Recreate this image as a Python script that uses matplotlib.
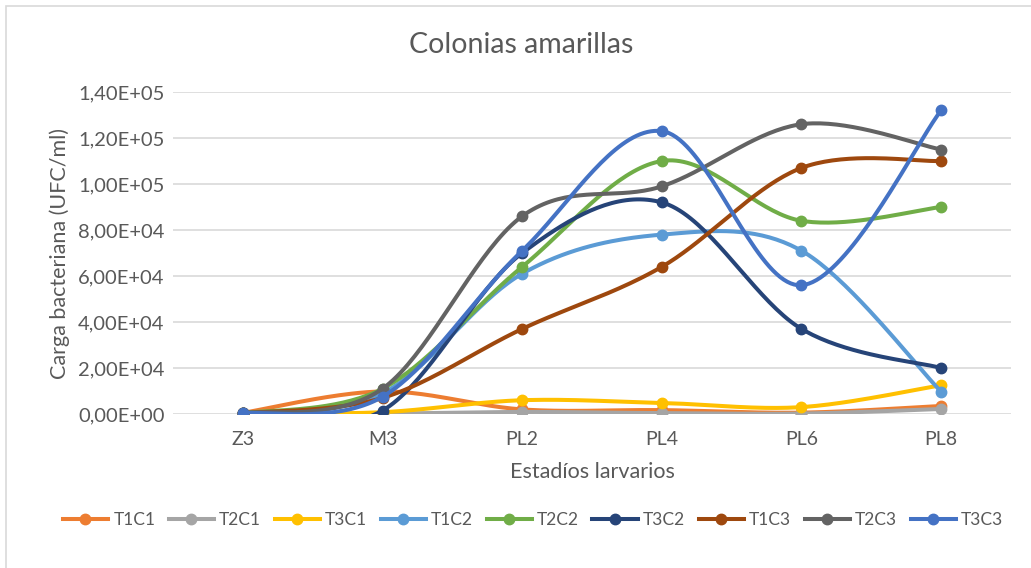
import numpy as np
import matplotlib.pyplot as plt
from matplotlib.ticker import FuncFormatter
from matplotlib.patches import Rectangle

plt.rcParams['font.family'] = ['Lato', 'DejaVu Sans']

estadios = ['Z3', 'M3', 'PL2', 'PL4', 'PL6', 'PL8']
series = ['T1C1', 'T2C1', 'T3C1', 'T1C2', 'T2C2', 'T3C2', 'T1C3', 'T2C3', 'T3C3']
colores = ['#ED7D31', '#A5A5A5', '#FFC000', '#5B9BD5', '#70AD47',
           '#264478', '#9E480E', '#636363', '#4472C4']

t1c1 = [500, 9800, 2000, 1700, 600, 3500]
t2c1 = [300, 200, 900, 400, 200, 2200]
t3c1 = [300, 800, 6000, 4800, 3000, 12500]
t1c2 = [300, 9000, 61000, 78000, 71000, 9700]
t2c2 = [300, 11000, 64000, 110000, 84000, 90000]
t3c2 = [300, 1500, 70000, 92000, 37000, 20000]
t1c3 = [300, 7000, 37000, 64000, 107000, 110000]
t2c3 = [300, 11000, 86000, 99000, 126000, 115000]
t3c3 = [300, 7500, 71000, 123000, 56000, 132000]
valores = [t1c1, t2c1, t3c1, t1c2, t2c2, t3c2, t1c3, t2c3, t3c3]


def suavizar(x, y, n=40):
    # curva tipo Excel: Bezier cubica con tangentes Catmull-Rom
    x = np.asarray(x, float)
    y = np.asarray(y, float)
    px = np.concatenate([[x[0]], x, [x[-1]]])
    py = np.concatenate([[y[0]], y, [y[-1]]])
    xs, ys = [], []
    t = np.linspace(0, 1, n)
    for i in range(1, len(px) - 2):
        p0 = np.array([px[i], py[i]])
        p3 = np.array([px[i + 1], py[i + 1]])
        c1 = p0 + (np.array([px[i + 1], py[i + 1]]) - np.array([px[i - 1], py[i - 1]])) / 6
        c2 = p3 - (np.array([px[i + 2], py[i + 2]]) - np.array([px[i], py[i]])) / 6
        b = ((1 - t) ** 3)[:, None] * p0 + (3 * (1 - t) ** 2 * t)[:, None] * c1 \
            + (3 * (1 - t) * t ** 2)[:, None] * c2 + (t ** 3)[:, None] * p3
        xs.extend(b[:, 0])
        ys.extend(b[:, 1])
    return xs, ys


fig = plt.figure(figsize=(10.31, 5.68), dpi=100)
fig.add_artist(Rectangle((0.006, -0.01), 1.2, 1.0, transform=fig.transFigure,
                         fill=False, edgecolor='#D9D9D9', linewidth=1.2))
ax = fig.add_axes([0.1678, 0.2711, 0.8128, 0.5669])

x = np.arange(len(estadios))
for nombre, col, val in zip(series, colores, valores):
    sx, sy = suavizar(x, val)
    ax.plot(sx, sy, color=col, lw=2.9, solid_capstyle='round', zorder=3)
    ax.plot(x, val, 'o', color=col, ms=7.5, zorder=3)
    ax.plot([], [], color=col, lw=2.9, marker='o', ms=7.5, label=nombre)

ax.set_xlim(-0.5, len(estadios) - 0.5)
ax.set_ylim(0, 140000)
ax.set_yticks(np.arange(0, 140001, 20000))
ax.yaxis.set_major_formatter(FuncFormatter(
    lambda v, p: ('%.2E' % v).replace('.', ',')))
ax.set_xticks(x)
ax.set_xticklabels(estadios)
ax.grid(axis='y', color='#D9D9D9', lw=1.2, zorder=0)
for s in ax.spines.values():
    s.set_visible(False)
ax.tick_params(axis='y', length=0, labelsize=14.5, colors='#595959', pad=6)
ax.tick_params(axis='x', length=0, labelsize=14, colors='#595959', pad=12)

fig.text(0.506, 0.921, 'Colonias amarillas', fontsize=20.5, color='#595959',
         ha='center', va='center')
ax.set_ylabel('Carga bacteriana (UFC/ml)', fontsize=15.5, color='#595959', labelpad=6)
ax.set_xlabel('Estadíos larvarios', fontsize=15.5, color='#595959', labelpad=10)

fig.legend(loc='center', bbox_to_anchor=(0.517, 0.085), ncol=9, frameon=False,
           fontsize=12.5, labelcolor='#595959', handlelength=2.6,
           handletextpad=0.3, columnspacing=0.78)

fig.savefig('out.png', dpi=100)
